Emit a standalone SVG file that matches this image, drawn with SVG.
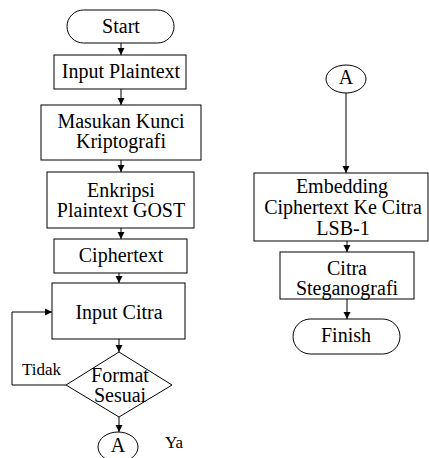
<svg xmlns="http://www.w3.org/2000/svg" width="429" height="458" viewBox="0 0 429 458">
<defs>
<marker id="ah" markerWidth="8" markerHeight="8" refX="7" refY="4" orient="auto" markerUnits="userSpaceOnUse">
<path d="M0,0.5 L7,4 L0,7.5 Z" fill="#000"/>
</marker>
<style>
.s{fill:#fff;stroke:#000;stroke-width:1}
text{font-family:'Liberation Serif',Tinos,'DejaVu Serif',serif;fill:#000}
.t{font-size:20px;text-anchor:middle}
.sm{font-size:17px}
.c{fill:none;stroke:#000;stroke-width:1;marker-end:url(#ah)}
</style>
</defs>
<rect width="429" height="458" fill="#fff"/>
<g id="connectors">
<line class="c" x1="121" y1="43" x2="121" y2="55"/>
<line class="c" x1="121" y1="89" x2="121" y2="105"/>
<line class="c" x1="121" y1="160" x2="121" y2="172"/>
<line class="c" x1="121" y1="228" x2="121" y2="239"/>
<line class="c" x1="119" y1="273" x2="119" y2="283"/>
<line class="c" x1="119" y1="339" x2="119" y2="352"/>
<line class="c" x1="119" y1="417" x2="119" y2="432"/>
<polyline class="c" points="66,385 12,385 12,312 52,312"/>
<line class="c" x1="346" y1="93" x2="346" y2="173"/>
<line class="c" x1="347" y1="241" x2="347" y2="252"/>
<line class="c" x1="347" y1="299" x2="347" y2="319"/>
</g>
<g id="start">
<rect class="s" x="67" y="10" width="107" height="33" rx="16.5"/>
<text class="t" x="121" y="33" font-family="Liberation Serif">Start</text>
</g>
<g id="input-plaintext">
<rect class="s" x="54" y="55" width="132" height="34"/>
<text class="t" x="121" y="78" font-family="Liberation Serif">Input Plaintext</text>
</g>
<g id="masukan-kunci">
<rect class="s" x="41" y="105" width="160" height="55"/>
<text class="t" x="121" y="128">Masukan Kunci</text>
<text class="t" x="121" y="148">Kriptografi</text>
</g>
<g id="enkripsi">
<rect class="s" x="47" y="172" width="147" height="56"/>
<text class="t" x="121" y="197">Enkripsi</text>
<text class="t" x="121" y="217">Plaintext GOST</text>
</g>
<g id="ciphertext">
<rect class="s" x="54" y="239" width="133" height="34"/>
<text class="t" x="121" y="262">Ciphertext</text>
</g>
<g id="input-citra">
<rect class="s" x="52" y="283" width="133" height="56"/>
<text class="t" x="119" y="319">Input Citra</text>
</g>
<g id="format-sesuai">
<polygon class="s" points="119,352 172,385 119,417 66,385"/>
<text class="t" x="120" y="382">Format</text>
<text class="t" x="120" y="402">Sesuai</text>
</g>
<text class="sm" x="22" y="375">Tidak</text>
<text class="sm" x="165" y="448">Ya</text>
<g id="connector-a-out">
<ellipse class="s" cx="118" cy="447" rx="20" ry="15"/>
<text class="t" x="118" y="452">A</text>
</g>
<g id="connector-a-in">
<ellipse class="s" cx="346" cy="79" rx="20" ry="14"/>
<text class="t" x="346" y="84">A</text>
</g>
<g id="embedding">
<rect class="s" x="254" y="173" width="174" height="68"/>
<text class="t" x="342" y="193">Embedding</text>
<text class="t" x="343" y="214">Ciphertext Ke Citra</text>
<text class="t" x="343" y="235">LSB-1</text>
</g>
<g id="citra-steganografi">
<rect class="s" x="280" y="252" width="134" height="47"/>
<text class="t" x="347" y="275">Citra</text>
<text class="t" x="347" y="295">Steganografi</text>
</g>
<g id="finish">
<rect class="s" x="293" y="319" width="107" height="35" rx="17.5"/>
<text class="t" x="346" y="342">Finish</text>
</g>
</svg>
